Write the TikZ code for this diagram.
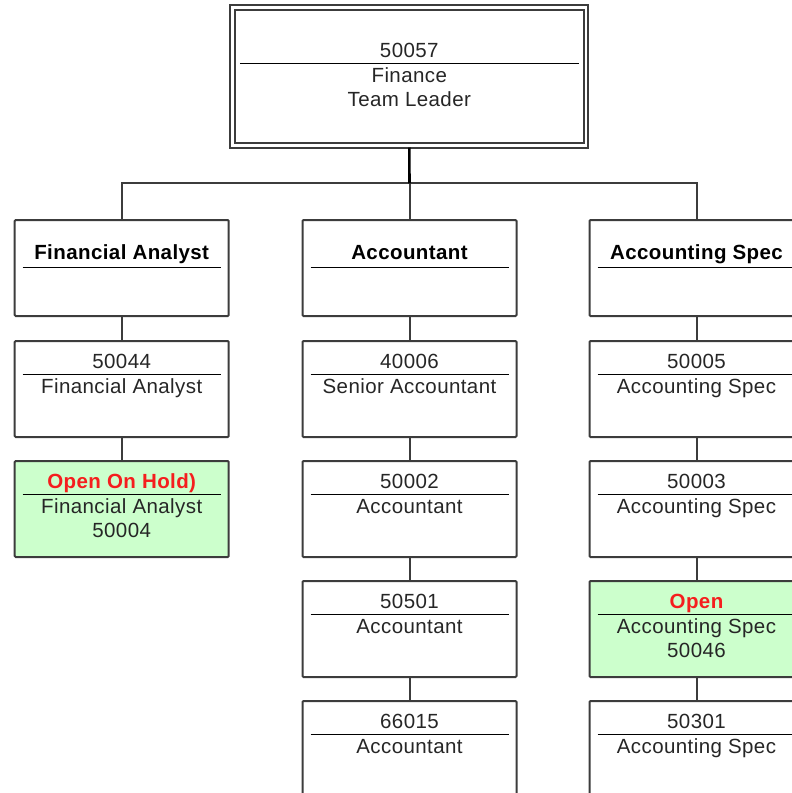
\documentclass[tikz,border=0pt]{standalone}
\usepackage{fontspec}
\setmainfont{Liberation Sans}[LetterSpace=2]
\usetikzlibrary{calc}
\definecolor{boxline}{RGB}{60,60,60}
\definecolor{holdgreen}{RGB}{204,255,204}
\definecolor{openred}{RGB}{245,30,30}

% name, first-line style, line1, line2, line3
\newcommand\posentry[5]{%
  \node[#2] (#1-a) at ($(#1.north)+(0,27.5)$) {#3};
  \draw[sep] ($(#1.north west)+(8,33.5)$) -- ($(#1.north east)+(-8,33.5)$);
  \node[txt] (#1-b) at ($(#1.north)+(0,52)$) {#4};
  \node[txt] (#1-c) at ($(#1.north)+(0,76.5)$) {#5};
}
% name, title
\newcommand\titleentry[2]{%
  \node[ttl] (#1-a) at ($(#1.north)+(0,39.3)$) {#2};
  \draw[sep] ($(#1.north west)+(8,47.5)$) -- ($(#1.north east)+(-8,47.5)$);
}

\begin{document}
\begin{tikzpicture}[x=1pt,y=-1pt,
  card/.style={draw=boxline, line width=2pt, minimum width=214pt, minimum height=96pt,
    anchor=north, inner sep=0pt, outer sep=0pt, fill=white, rounded corners=1pt},
  greencard/.style={card, fill=holdgreen},
  txt/.style={anchor=base, inner sep=0pt, font=\fontsize{20.5}{24}\selectfont, text=black!85},
  ttl/.style={txt, font=\fontsize{20.5}{24}\selectfont\bfseries, text=black},
  redttl/.style={ttl, text=openred},
  sep/.style={draw=black, line width=1.5pt},
  conn/.style={draw=boxline, line width=2pt},
  mainconn/.style={draw=black, line width=2.6pt},
]
\useasboundingbox (0,0) rectangle (792,793);
\clip (0,0) rectangle (792,793);

% top box
\node[draw=boxline, line width=2pt, minimum width=358pt, minimum height=142.5pt,
  anchor=north, inner sep=0pt, outer sep=0pt] (top) at (409.3,5) {};
\draw[boxline, line width=2pt] ($(top.north west)+(4.5,4.5)$) rectangle ($(top.south east)+(-4.5,-4.5)$);
\node[txt] (top-a) at ($(top.north)+(0,52.3)$) {50057};
\draw[sep] ($(top.north west)+(9.5,58.3)$) -- ($(top.north east)+(-9.5,58.3)$);
\node[txt] (top-b) at ($(top.north)+(0,77.7)$) {Finance};
\node[txt] (top-c) at ($(top.north)+(0,101.7)$) {Team Leader};

% columns
\node[card] (fa)  at (121.7,220) {};
\node[card] (fa2) at (121.7,341) {};
\node[greencard] (fa3) at (121.7,461) {};

\node[card] (ac)  at (409.5,220) {};
\node[card] (ac2) at (409.5,341) {};
\node[card] (ac3) at (409.5,461) {};
\node[card] (ac4) at (409.5,581) {};
\node[card] (ac5) at (409.5,701) {};

\node[card] (as)  at (696.5,220) {};
\node[card] (as2) at (696.5,341) {};
\node[card] (as3) at (696.5,461) {};
\node[greencard] (as4) at (696.5,581) {};
\node[card] (as5) at (696.5,701) {};

\titleentry{fa}{Financial Analyst}
\posentry{fa2}{txt}{50044}{Financial Analyst}{}
\posentry{fa3}{redttl}{Open On Hold)}{Financial Analyst}{50004}

\titleentry{ac}{Accountant}
\posentry{ac2}{txt}{40006}{Senior Accountant}{}
\posentry{ac3}{txt}{50002}{Accountant}{}
\posentry{ac4}{txt}{50501}{Accountant}{}
\posentry{ac5}{txt}{66015}{Accountant}{}

\titleentry{as}{Accounting Spec}
\posentry{as2}{txt}{50005}{Accounting Spec}{}
\posentry{as3}{txt}{50003}{Accounting Spec}{}
\posentry{as4}{redttl}{Open}{Accounting Spec}{50046}
\posentry{as5}{txt}{50301}{Accounting Spec}{}

% connectors
\coordinate (bar) at (409.5,183.3);
\draw[conn] (fa.north) |- (bar) -| (as.north);
\draw[conn] (ac.north) -- (ac.north |- bar);
\draw[mainconn] (top.south) -- (bar);

\draw[conn] (fa.south) -- (fa2.north);
\draw[conn] (fa2.south) -- (fa3.north);

\draw[conn] (ac.south) -- (ac2.north);
\draw[conn] (ac2.south) -- (ac3.north);
\draw[conn] (ac3.south) -- (ac4.north);
\draw[conn] (ac4.south) -- (ac5.north);

\draw[conn] (as.south) -- (as2.north);
\draw[conn] (as2.south) -- (as3.north);
\draw[conn] (as3.south) -- (as4.north);
\draw[conn] (as4.south) -- (as5.north);
\end{tikzpicture}
\end{document}
